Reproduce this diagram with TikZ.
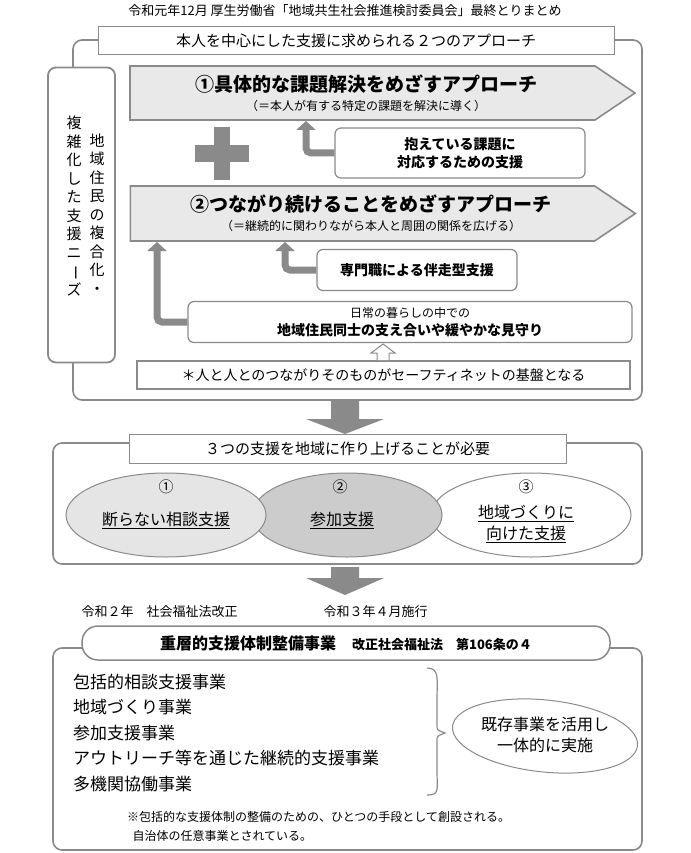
\documentclass[tikz,border=0pt]{standalone}
\usepackage{fontspec}
\setmainfont{Noto Sans CJK JP}
\usetikzlibrary{arrows.meta, positioning, shapes.symbols, shapes.geometric}
\definecolor{lgray}{HTML}{8A8A8A}
\definecolor{pfill}{HTML}{E9E9E9}
\newcommand{\fsz}[1]{\fontsize{#1}{\the\numexpr #1*13/10\relax}\selectfont}
\tikzset{
  frame/.style={draw=lgray, line width=1.6pt, rounded corners=9pt},
  hdr/.style={draw=lgray, line width=1pt, fill=white, inner sep=0pt},
  rbox/.style={draw=lgray, line width=1.2pt, rounded corners=6pt, fill=white, align=center, inner sep=0pt},
  appr/.style={signal, signal to=east, signal pointer angle=68, draw=lgray, line width=1.6pt, fill=pfill, inner sep=0pt, align=center},
  uparrow/.style={draw=lgray, line width=7pt, rounded corners=5pt, -{Triangle[length=9pt,width=19pt]}},
  bigarrow/.style={fill=lgray, draw=none},
  oval/.style={ellipse, draw=lgray, line width=1pt, inner sep=0pt, align=center}
}
\begin{document}
\begin{tikzpicture}[x=1pt, y=-1pt]
  \useasboundingbox (0,0) rectangle (690,853);
  % title
  \node[font=\fsz{13}] (title) at (345,11) {令和元年12月 厚生労働省「地域共生社会推進検討委員会」最終とりまとめ};

  % part 1
  \draw[frame] (73,40) rectangle (642,400);
  \node[hdr, minimum width=516, minimum height=28, font=\fsz{15}] (hdr1) at (356,41) {本人を中心にした支援に求められる２つのアプローチ};
  \node[rbox, line width=1.8pt, rounded corners=8pt, fill=white, minimum width=67, minimum height=295] (needs) at (81.5,215) {};
  \node[align=center, inner sep=0pt, font={\fsz{15}\baselineskip=18.5pt}] (needsR) at (97,214) {地\\域\\住\\民\\の\\複\\合\\化\\・};
  \node[align=center, inner sep=0pt, font={\fsz{15}\baselineskip=18.5pt}] (needsL) at (74,206) {複\\雑\\化\\し\\た\\支\\援\\ニ\\\rotatebox[origin=c]{-90}{ー}\\ズ};

  \node[appr, minimum width=505, minimum height=54] (appr1) at (362.5,93) {};
  \node[font=\fsz{19}\bfseries] (appr1t) at (366,84) {①具体的な課題解決をめざすアプローチ};
  \node[font=\fsz{12}] (appr1s) at (366,106) {（＝本人が有する特定の課題を解決に導く）};
  \node[appr, minimum width=505, minimum height=55] (appr2) at (362.5,213.5) {};
  \node[font=\fsz{19}\bfseries] (appr2t) at (371,204) {②つながり続けることをめざすアプローチ};
  \node[font=\fsz{12}] (appr2s) at (371,226) {（＝継続的に関わりながら本人と周囲の関係を広げる）};

  % plus
  \fill[lgray] (214,127) rectangle (230,180);
  \fill[lgray] (195,145) rectangle (249,162);

  \node[rbox, minimum width=250, minimum height=50, font=\fsz{14}\bfseries] (kadai) at (460,153) {抱えている課題に\\対応するための支援};
  \node[rbox, minimum width=200, minimum height=41, font=\fsz{14}\bfseries] (senmon) at (417,270) {専門職による伴走型支援};
  \node[rbox, minimum width=444, minimum height=41, font=\fsz{14}\bfseries] (kurashi) at (410,322) {{\fsz{12}\mdseries 日常の暮らしの中での}\\地域住民同士の支え合いや緩やかな見守り};
  \node[hdr, line width=1.2pt, minimum width=493, minimum height=28, font=\fsz{14}] (kiban) at (383.5,375) {＊人と人とのつながりそのものがセーフティネットの基盤となる};

  \coordinate (a1) at (306,121);
  \coordinate (a2) at (285,242);
  \coordinate (a3) at (157,242);
  \draw[uparrow] (kadai.west) -| (a1);
  \draw[uparrow] (senmon.west) -| (a2);
  \draw[uparrow] (kurashi.west) -| (a3);
  % small hollow arrow
  \draw[lgray, line width=1pt, fill=white] (377,360) -- (377,353) -- (371,353) -- (383,344) -- (395,353) -- (389,353) -- (389,360);

  \fill[bigarrow] (331,401) -- (359,401) -- (359,419) -- (384,419) -- (345,434) -- (306,419) -- (331,419) -- cycle;

  % part 2
  \draw[frame] (53,443) rectangle (642,564);
  \node[hdr, minimum width=437, minimum height=29, font=\fsz{15}] (hdr2) at (347.5,448.5) {３つの支援を地域に作り上げることが必要};
  \node[oval, fill=white, minimum width=200, minimum height=84] (sien3) at (531,515) {};
  \node[oval, fill=black!20, minimum width=190, minimum height=84] (sien2) at (347,515) {};
  \node[oval, fill=black!10, minimum width=200, minimum height=84] (sien1) at (166,515) {};
  \node[font=\fsz{15}] (n1) at (166,487) {①};
  \node[font=\fsz{15}] (n2) at (340,487) {②};
  \node[font=\fsz{15}] (n3) at (526,487) {③};
  \node[font=\fsz{16}] (l1) at (166,520) {\underline{断らない相談支援}};
  \node[font=\fsz{16}] (l2) at (342,520) {\underline{参加支援}};
  \node[align=center, font=\fsz{16}] (l3) at (526,524) {\underline{地域づくりに}\\\underline{向けた支援}};

  \fill[bigarrow] (331,567) -- (359,567) -- (359,578) -- (384,578) -- (345,595) -- (306,578) -- (331,578) -- cycle;

  % part 3
  \node[anchor=west, font=\fsz{13}] (kaisei) at (78,612) {令和２年\quad 社会福祉法改正};
  \node[anchor=west, font=\fsz{13}] (sekou) at (320,612) {令和３年４月施行};
  \draw[frame] (53,648) rectangle (642,850);
  \node[rbox, line width=1.5pt, rounded corners=16pt, minimum width=528, minimum height=34, font=\fsz{16}\bfseries] (hdr3) at (346,643) {重層的支援体制整備事業\quad{\fsz{13}改正社会福祉法\quad 第106条の４}};
  \node[anchor=west, align=left, inner sep=0pt, font={\fsz{17}\baselineskip=25.5pt}] (jigyo) at (73,733) {包括的相談支援事業\\地域づくり事業\\参加支援事業\\アウトリーチ等を通じた継続的支援事業\\多機関協働事業};
  \draw[lgray, line width=1.2pt] (427,668) .. controls (440,668) and (437,680) .. (437,700) -- (437,725) .. controls (437,730) .. (445,733) .. controls (437,736) .. (437,741) -- (437,770) .. controls (437,790) and (440,795) .. (427,795);
  \node[oval, rotate=-6, minimum width=186, minimum height=72] (katsuyo) at (545,736) {};
  \node[align=center, font=\fsz{16}] (katsuyot) at (545,735) {既存事業を活用し\\一体的に実施};
  \node[anchor=west, align=left, inner sep=0pt, font={\fsz{12}\baselineskip=19pt}] (note) at (127,826) {※包括的な支援体制の整備のための、ひとつの手段として創設される。\\\ \ 自治体の任意事業とされている。};
\end{tikzpicture}
\end{document}
